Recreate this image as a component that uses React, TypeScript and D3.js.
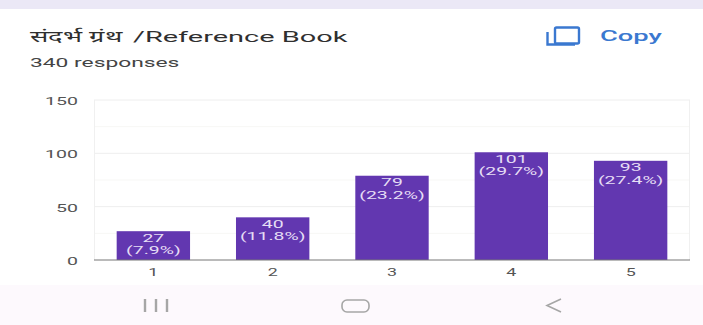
import React from "react";
import * as d3 from "d3";

const categories = ["1", "2", "3", "4", "5"];
const counts = [27, 40, 79, 101, 93];
const percents = ["(7.9%)", "(11.8%)", "(23.2%)", "(29.7%)", "(27.4%)"];
const yTicks = [0, 50, 100, 150];
const yMinor = [25, 75, 125];
const titleHindi = "संदर्भ ग्रंथ";
const titleLatin = "/Reference Book";
const subtitle = "340 responses";

const W = 703, H = 325;
const font = "Roboto, sans-serif";
const x = d3.scaleBand<string>().domain(categories).range([94, 690]).paddingInner(0.385).paddingOuter(0.19);
const y = d3.scaleLinear().domain([0, 150]).range([260, 100]);

function Stretched({ x: tx, y: ty, sx = 1.7, size, fill, anchor = "start", weight = 400, children }: any) {
  return (
    <text transform={`translate(${tx},${ty}) scale(${sx},1)`} fontSize={size} fill={fill} textAnchor={anchor} fontFamily={font} fontWeight={weight}>
      {children}
    </text>
  );
}

export default function App() {
  return (
    <svg width={W} height={H} viewBox={`0 0 ${W} ${H}`} style={{ position: "absolute", left: 0, top: 0, background: "#fff" }}>
      <rect x={0} y={0} width={W} height={9} fill="#ebe8f6" />
      <rect x={0} y={285} width={W} height={40} fill="#fdf9fd" />

      <Stretched x={30} y={42} size={16} fill="#2f2f2f" sx={1.7}>{titleHindi}</Stretched>
      <Stretched x={133} y={42} size={15} fill="#2f2f2f" sx={1.93}>{titleLatin}</Stretched>
      <Stretched x={30} y={67} size={12} fill="#444" sx={1.9}>{subtitle}</Stretched>

      <g fill="none" stroke="#3a78d0" strokeWidth={2.4}>
        <rect x={555} y={27.5} width={24} height={16} rx={1.5} />
        <path d="M547.5 32 V44.5 H575" />
      </g>
      <Stretched x={600} y={41} size={14} fill="#3a78d0" sx={1.95} weight={500}>Copy</Stretched>

      {yMinor.map(t => <line key={t} x1={94} x2={690} y1={y(t)} y2={y(t)} stroke="#f7f7f5" />)}
      {yTicks.filter(t => t > 0).map(t => <line key={t} x1={94} x2={690} y1={y(t)} y2={y(t)} stroke="#eeeeee" />)}
      <line x1={94.5} x2={94.5} y1={100} y2={260} stroke="#f0f0f0" />
      <line x1={689.5} x2={689.5} y1={100} y2={260} stroke="#f0f0f0" />

      {yTicks.map(t => (
        <Stretched key={t} x={78} y={y(t) + 5} size={11.5} fill="#555" anchor="end" sx={1.7}>{t}</Stretched>
      ))}

      {categories.map((c, i) => {
        const bx = x(c)!;
        const cx = bx + x.bandwidth() / 2;
        const top = y(counts[i]);
        return (
          <g key={c}>
            <rect x={bx} y={top} width={x.bandwidth()} height={260 - top} fill="#6237b0" />
            <Stretched x={cx} y={top + 10.5} size={10.5} fill="#e6def5" anchor="middle" sx={1.85}>{counts[i]}</Stretched>
            <Stretched x={cx} y={top + 23} size={10.5} fill="#e6def5" anchor="middle" sx={1.85}>{percents[i]}</Stretched>
            <Stretched x={cx} y={276} size={10.5} fill="#555" anchor="middle" sx={1.7}>{c}</Stretched>
          </g>
        );
      })}
      <line x1={94} x2={690} y1={260} y2={260} stroke="#777" strokeWidth={1} />

      <g stroke="#a6a6a6" strokeWidth={2.4} fill="none">
        <path d="M145 299 V312 M156 299 V312 M167 299 V312" />
        <rect x={342} y={300} width={27} height={12} rx={5} strokeWidth={1.6} />
        <path d="M561 299 L547 305.5 L561 312" strokeWidth={1.6} />
      </g>
    </svg>
  );
}
